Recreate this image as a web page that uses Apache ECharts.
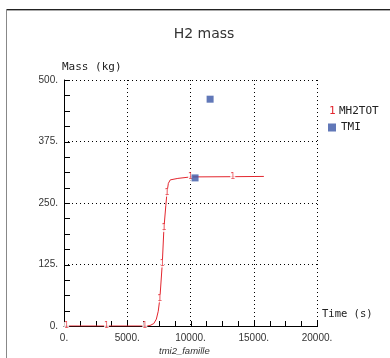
<!DOCTYPE html>
<html><head><meta charset="utf-8">
<script src="https://cdn.jsdelivr.net/npm/echarts@6/dist/echarts.min.js"></script>
<style>html,body{margin:0;padding:0;background:#fff}#c{width:390px;height:358px}</style>
</head><body><div id="c"></div>
<script>
// Data
const lineTime = [0, 6500, 6800, 7100, 7300, 7450, 7580, 7770, 7900, 8050, 8140, 8250, 8400, 9000, 10000, 13340, 15800];
const lineMass = [0, 0, 1, 5, 14, 30, 56, 127, 199, 245, 271, 290, 297, 300, 303, 303.5, 304];
const markTime = [200, 3360, 6390, 7580, 7770, 7900, 8140, 10000, 13340];
const markMass = [0, 0, 0, 56, 127, 199, 271, 303, 303.5];
const tmiTime = [10360, 11550];
const tmiMass = [301, 461];
const xTicks = [0, 5000, 10000, 15000, 20000];
const yTicks = [0, 125, 250, 375, 500];
const xMinorTicks = [0, 1250, 2500, 3750, 5000, 6250, 7500, 8750, 10000, 11250, 12500, 13750, 15000, 16250, 17500, 18750, 20000];
const yMinorTicks = [0, 31.25, 62.5, 93.75, 125, 156.25, 187.5, 218.75, 250, 281.25, 312.5, 343.75, 375, 406.25, 437.5, 468.75, 500];

const RED = '#e3262e', BLUE = '#3a56a6';
const zip = (a, b) => a.map((v, i) => [v, b[i]]);
const axisCommon = () => ({
  axisLine: {show: true, onZero: false, lineStyle: {color: '#000', width: 1}},
  axisTick: {show: false},
  minorTick: {show: false},
  splitLine: {show: true, lineStyle: {color: '#000', type: [1, 3], width: 1}}
});
const chart = echarts.init(document.getElementById('c'), null, {renderer: 'canvas'});
chart.setOption({
  animation: false,
  backgroundColor: '#fff',
  title: {text: 'H2 mass', left: 199, textAlign: 'center', top: 22,
    textStyle: {fontFamily: 'DejaVu Sans', fontSize: 14, fontWeight: 'normal', color: '#333'}},
  grid: {left: 64, top: 80, right: 73, bottom: 32, containLabel: false},
  legend: [{
    orient: 'vertical', left: 319, top: 100, itemWidth: 0, itemHeight: 8,
    data: [{name: 'MH2TOT', icon: 'none'}],
    formatter: '{r|1} {t|MH2TOT}',
    textStyle: {rich: {
      r: {color: RED, fontFamily: 'DejaVu Sans Mono', fontSize: 11},
      t: {color: '#222', fontFamily: 'DejaVu Sans Mono', fontSize: 11}}}
  }, {
    orient: 'vertical', left: 323, top: 117, itemWidth: 8, itemHeight: 8, itemGap: 5,
    data: [{name: 'TMI', icon: 'rect'}],
    textStyle: {color: '#222', fontFamily: 'DejaVu Sans Mono', fontSize: 11}
  }],
  xAxis: Object.assign({
    type: 'value', min: 0, max: 20000, interval: 5000,
    name: 'Time (s)', nameLocation: 'end', nameGap: 5,
    nameTextStyle: {fontFamily: 'DejaVu Sans Mono', fontSize: 10.5, color: '#222',
      align: 'left', verticalAlign: 'bottom', padding: [0, 0, 6, 0]},
    axisLabel: {formatter: v => xTicks.includes(v) ? v + '.' : '', margin: 7,
      fontFamily: 'Liberation Sans', fontSize: 10, color: '#333',
      showMinLabel: true, showMaxLabel: true}
  }, axisCommon()),
  yAxis: Object.assign({
    type: 'value', min: 0, max: 500, interval: 125,
    name: 'Mass (kg)', nameLocation: 'end', nameGap: 7,
    nameTextStyle: {fontFamily: 'DejaVu Sans Mono', fontSize: 11, color: '#222', align: 'left', padding: [0, 0, 0, -2]},
    axisLabel: {formatter: v => yTicks.includes(v) ? v + '.' : '', margin: 6,
      fontFamily: 'Liberation Sans', fontSize: 10, color: '#333'}
  }, axisCommon()),
  series: [{
    name: 'xticks', type: 'custom', silent: true, clip: false, z: 6,
    data: xMinorTicks.map(v => [v, 0]),
    renderItem: (params, api) => {
      const p = api.coord([api.value(0), 0]);
      const x = Math.round(p[0]), y = Math.round(p[1]);
      const children = [{type: 'rect', shape: {x: x, y: y - 5, width: 1, height: 5}, style: {fill: '#000'}}];
      if (params.dataIndex === 0) {
        const e = api.coord([20000, 0]);
        children.push({type: 'rect', shape: {x: x, y: y, width: Math.round(e[0]) - x + 1, height: 1}, style: {fill: '#000'}});
      }
      return {type: 'group', children};
    }
  }, {
    name: 'yticks', type: 'custom', silent: true, clip: false, z: 6,
    data: yMinorTicks.map(v => [0, v]),
    renderItem: (params, api) => {
      const p = api.coord([0, api.value(1)]);
      const x = Math.round(p[0]), y = Math.round(p[1]);
      const children = [{type: 'rect', shape: {x: x, y: y, width: 6, height: 1}, style: {fill: '#000'}}];
      if (params.dataIndex === 0) {
        const e = api.coord([0, 500]);
        const top = Math.round(e[1]);
        children.push({type: 'rect', shape: {x: x, y: top, width: 1, height: y - top + 1}, style: {fill: '#000'}});
      }
      return {type: 'group', children};
    }
  }, {
    name: 'MH2TOT', type: 'line', data: zip(lineTime, lineMass),
    symbol: 'none', lineStyle: {color: RED, width: 1}, itemStyle: {color: RED}, z: 7
  }, {
    name: 'MH2TOT', type: 'scatter', data: zip(markTime, markMass),
    symbol: 'circle', symbolSize: 1, itemStyle: {color: 'rgba(0,0,0,0)'}, z: 8,
    label: {show: true, formatter: '1', position: 'inside', color: RED,
      fontFamily: 'DejaVu Sans', fontSize: 8, backgroundColor: '#fff', padding: [0, 0]}
  }, {
    name: 'TMI', type: 'scatter', data: zip(tmiTime, tmiMass),
    symbol: 'rect', symbolSize: 7, itemStyle: {color: BLUE}, z: 9
  }],
  graphic: [
    {type: 'rect', shape: {x: 6, y: 9, width: 384, height: 1}, style: {fill: '#222'}},
    {type: 'rect', shape: {x: 6, y: 10, width: 384, height: 1}, style: {fill: '#aaa'}},
    {type: 'rect', shape: {x: 6, y: 9, width: 1, height: 349}, style: {fill: '#888'}},
    {type: 'text', left: 159, top: 346, style: {text: 'tmi2_famille', fontFamily: 'Liberation Sans',
      fontStyle: 'italic', fontSize: 9.5, fill: '#333'}}
  ]
});
</script></body></html>
